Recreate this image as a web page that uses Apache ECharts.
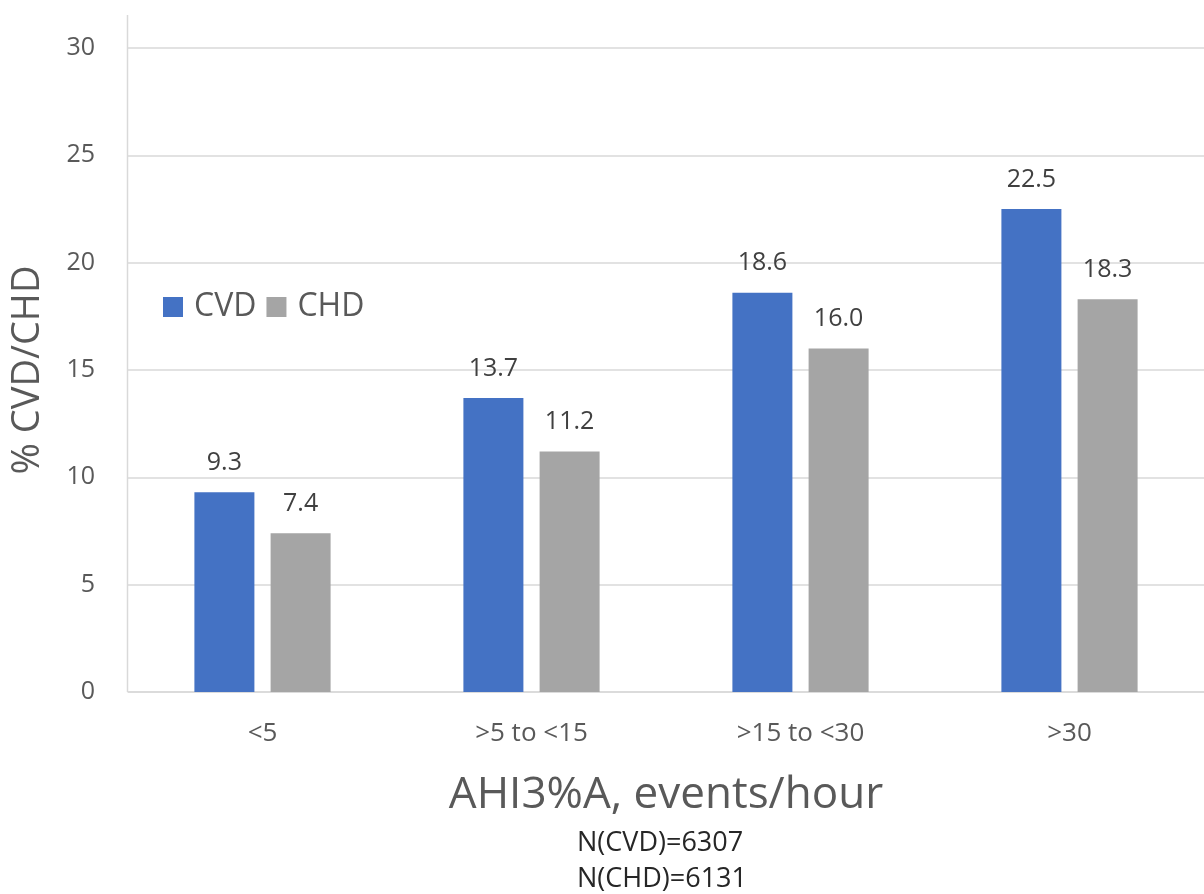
<!DOCTYPE html>
<html>
<head>
<meta charset="utf-8">
<script src="https://cdn.jsdelivr.net/npm/echarts@6/dist/echarts.min.js"></script>
<style>html,body{margin:0;padding:0;background:#fff;}#c{width:1204px;height:894px;}</style>
</head>
<body>
<div id="c"></div>
<script>
var categories = ['<5', '>5 to <15', '>15 to <30', '>30'];
var cvd = [9.3, 13.7, 18.6, 22.5];
var chd = [7.4, 11.2, 16.0, 18.3];
var notes = ['N(CVD)=6307', 'N(CHD)=6131'];

var FONT = '"Open Sans", "Liberation Sans", sans-serif';
var chart = echarts.init(document.getElementById('c'));
var labelOpt = {show: true, position: 'top', distance: 17, color: '#404040', fontSize: 25, fontFamily: FONT, formatter: function(p){return p.value.toFixed(1);}};
chart.setOption({
  animation: false,
  backgroundColor: '#fff',
  textStyle: {fontFamily: FONT},
  legend: {
    left: 158, top: 286, itemWidth: 20, itemHeight: 20, itemGap: 10,
    icon: 'rect',
    textStyle: {fontSize: 32, color: '#595959', fontFamily: FONT, padding: [0, 0, 0, 6]},
    data: ['CVD', 'CHD']
  },
  grid: {left: 128, right: -8, top: 48, bottom: 202},
  xAxis: {
    type: 'category', data: categories,
    axisLine: {lineStyle: {color: '#d9d9d9', width: 1.5}},
    axisTick: {show: false},
    axisLabel: {fontSize: 26, color: '#595959', margin: 29, fontFamily: FONT},
    name: 'AHI3%A, events/hour', nameLocation: 'middle', nameGap: 81,
    nameTextStyle: {fontSize: 44, color: '#595959', fontFamily: FONT}
  },
  yAxis: {
    type: 'value', min: 0, max: 30, interval: 5,
    axisLine: {show: false}, axisTick: {show: false},
    splitLine: {lineStyle: {color: '#d9d9d9', width: 1.5}},
    axisLabel: {fontSize: 25, color: '#595959', margin: 33, fontFamily: FONT},
    name: '% CVD/CHD', nameLocation: 'middle', nameGap: 81, nameRotate: 90,
    nameTextStyle: {fontSize: 38, color: '#595959', fontFamily: FONT}
  },
  series: [
    {name: 'CVD', type: 'bar', data: cvd, barWidth: 60, barGap: '27%', itemStyle: {color: '#4472C4'}, label: labelOpt},
    {name: 'CHD', type: 'bar', data: chd, barWidth: 60, itemStyle: {color: '#A5A5A5'}, label: labelOpt}
  ],
  graphic: [
    {type: 'line', shape: {x1: 127.5, y1: 15, x2: 127.5, y2: 692}, style: {stroke: '#d9d9d9', lineWidth: 1.5}, z: 0},
    {type: 'text', left: 577, top: 830, style: {text: notes[0], fontSize: 27, fill: '#262626', fontFamily: FONT}},
    {type: 'text', left: 577, top: 866, style: {text: notes[1], fontSize: 27, fill: '#262626', fontFamily: FONT}}
  ]
});
</script>
</body>
</html>
